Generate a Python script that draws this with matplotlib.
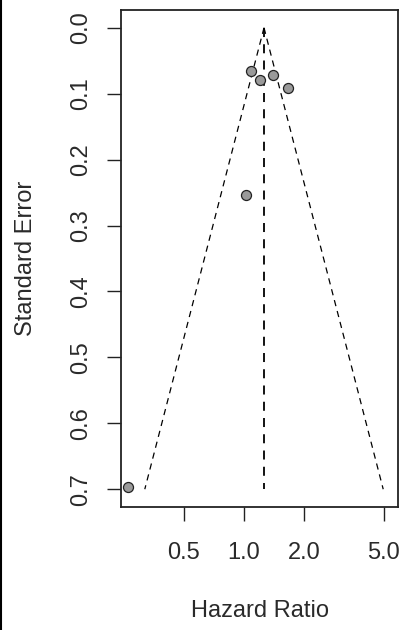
import numpy as np
import matplotlib
matplotlib.use('Agg')
import matplotlib.pyplot as plt
from matplotlib.lines import Line2D

# Данные исследований (по рисунку)
hazard_ratio = [1.08, 1.21, 1.39, 1.67, 1.02, 0.263]
std_error = [0.065, 0.079, 0.071, 0.091, 0.254, 0.697]
pooled_hr = 1.26
se_max = 0.70

x_ticks = [0.5, 1.0, 2.0, 5.0]
x_tick_labels = ['0.5', '1.0', '2.0', '5.0']
y_ticks = [0.0, 0.1, 0.2, 0.3, 0.4, 0.5, 0.6, 0.7]
y_tick_labels = ['0.0', '0.1', '0.2', '0.3', '0.4', '0.5', '0.6', '0.7']

plt.rcParams['font.family'] = ['Liberation Sans', 'DejaVu Sans']

fig = plt.figure(figsize=(4.01, 6.30), dpi=100)
ax = fig.add_axes([121 / 401, 1 - 507 / 630, 277 / 401, 497 / 630])

# Воронка
se_line = np.array([0.0, se_max])
lower = np.exp(np.log(pooled_hr) - 1.96 * se_line)
upper = np.exp(np.log(pooled_hr) + 1.96 * se_line)
dash = (0, (5, 4))
ax.plot(lower, se_line, color='black', lw=0.9, linestyle=dash)
ax.plot(upper, se_line, color='black', lw=0.9, linestyle=dash)
ax.plot([pooled_hr, pooled_hr], [0, se_max], color='black', lw=1.3, linestyle=dash)

# Точки исследований
ax.scatter(hazard_ratio, std_error, s=52, facecolor='#9a9a9a', edgecolor='#222222',
           linewidth=0.9, zorder=3)

ax.set_xscale('log')
ax.set_xlim(0.243, 5.89)
ax.set_ylim(0.727, -0.027)

ax.set_xticks(x_ticks)
ax.set_xticklabels(x_tick_labels)
ax.xaxis.set_minor_locator(matplotlib.ticker.NullLocator())
ax.set_yticks(y_ticks)
ax.set_yticklabels(y_tick_labels, rotation=90, va='center')

ax.tick_params(axis='both', length=10, width=1.0, labelsize=17, color='#222222',
               labelcolor='#2a2a2a')
ax.tick_params(axis='x', pad=15)
ax.tick_params(axis='y', pad=11)
for sp in ax.spines.values():
    sp.set_linewidth(1.3)
    sp.set_color('#222222')

ax.set_xlabel('Hazard Ratio', fontsize=17, color='#2a2a2a', va='center')
ax.xaxis.set_label_coords(0.5, (507 - 611) / 497)
ax.set_ylabel('Standard Error', fontsize=17, color='#2a2a2a', va='center')
ax.yaxis.set_label_coords((26 - 121) / 277, 0.5)

# Рамка слева
fig.add_artist(Line2D([0.002, 0.002], [0, 1], color='black', lw=1.5,
                      transform=fig.transFigure))

fig.savefig('out.png', dpi=100)
